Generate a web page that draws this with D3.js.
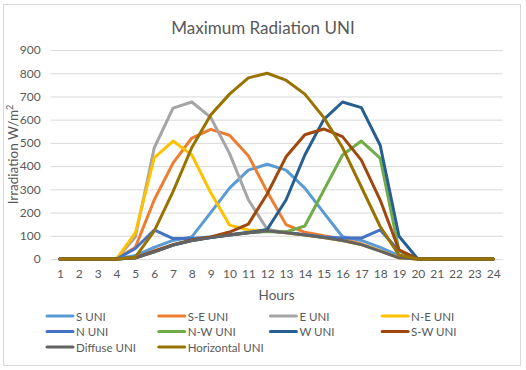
<!DOCTYPE html>
<html>
<head>
<meta charset="utf-8">
<script src="https://cdn.jsdelivr.net/npm/d3@7"></script>
<style>
  body { margin: 0; background: #fff; }
  text { font-family: Lato, "Open Sans", sans-serif; fill: #595959; }
</style>
</head>
<body>
<div id="chart"></div>
<script>
// frame + plot area
const FRAME_WIDTH = 526;
const FRAME_HEIGHT = 370;
const MARGINS = {left: 50.6, right: 23.4, top: 50, bottom: 111};
const VIS_WIDTH = FRAME_WIDTH - MARGINS.left - MARGINS.right;
const VIS_HEIGHT = FRAME_HEIGHT - MARGINS.top - MARGINS.bottom;

// data
const hours = d3.range(1, 25);
const yTicks = [0, 100, 200, 300, 400, 500, 600, 700, 800, 900];

const sUni = [0,0,0,0,15,50,80,95,200,305,383,408,383,305,200,96,80,50,15,0,0,0,0,0];
const seUni = [0,0,0,0,50,254,413,521,558,533,445,290,148,115,100,85,65,35,5,0,0,0,0,0];
const eUni = [0,0,0,0,95,478,650,676,610,455,255,128,113,103,92,80,62,35,5,0,0,0,0,0];
const neUni = [0,0,0,0,112,435,508,448,286,146,125,122,113,103,92,80,62,35,5,0,0,0,0,0];
const nUni = [0,0,0,0,45,125,88,88,95,105,115,120,115,105,95,90,90,125,35,0,0,0,0,0];
const nwUni = [0,0,0,0,5,32,60,80,92,103,113,118,117,142,295,448,508,434,37,0,0,0,0,0];
const wUni = [0,0,0,0,5,32,60,80,92,103,113,127,254,448,600,676,652,490,98,0,0,0,0,0];
const swUni = [0,0,0,0,5,35,62,82,95,116,150,280,440,535,560,527,426,254,39,0,0,0,0,0];
const diffuseUni = [0,0,0,0,5,30,60,80,92,103,113,122,113,103,92,80,62,34,5,0,0,0,0,0];
const horizontalUni = [0,0,0,0,8,120,290,480,620,710,780,800,770,710,610,480,310,140,17,0,0,0,0,0];

const series = [
  {name: 'S UNI', values: sUni, color: '#5B9BD5'},
  {name: 'S-E UNI', values: seUni, color: '#ED7D31'},
  {name: 'E UNI', values: eUni, color: '#A5A5A5'},
  {name: 'N-E UNI', values: neUni, color: '#FFC000'},
  {name: 'N UNI', values: nUni, color: '#4472C4'},
  {name: 'N-W UNI', values: nwUni, color: '#70AD47'},
  {name: 'W UNI', values: wUni, color: '#255E91'},
  {name: 'S-W UNI', values: swUni, color: '#9E480E'},
  {name: 'Diffuse UNI', values: diffuseUni, color: '#636363'},
  {name: 'Horizontal UNI', values: horizontalUni, color: '#997300'}
];

const FRAME = d3.select('#chart')
  .append('svg')
    .attr('width', FRAME_WIDTH)
    .attr('height', FRAME_HEIGHT);

// outer border
FRAME.append('rect')
  .attr('x', 3.5).attr('y', 4.5)
  .attr('width', 517).attr('height', 361)
  .attr('fill', '#fff')
  .attr('stroke', '#d9d9d9');

// title
FRAME.append('text')
  .attr('x', 263).attr('y', 34)
  .attr('text-anchor', 'middle')
  .attr('font-size', '17px')
  .text('Maximum Radiation UNI');

// scales
const xscale = d3.scalePoint()
  .domain(hours)
  .range([0, VIS_WIDTH])
  .padding(0.5);
const yscale = d3.scaleLinear()
  .domain([0, 900])
  .range([VIS_HEIGHT, 0]);

const plot = FRAME.append('g')
  .attr('transform', 'translate(' + MARGINS.left + ',' + MARGINS.top + ')');

// y axis + gridlines
const yAxis = plot.append('g')
  .call(d3.axisLeft(yscale).tickValues(yTicks).tickSize(-VIS_WIDTH).tickPadding(10));
yAxis.select('.domain').remove();
yAxis.selectAll('line').attr('stroke', '#d9d9d9');
yAxis.selectAll('text').attr('font-size', '12px').attr('fill', '#595959');

// x axis
const xAxis = plot.append('g')
  .attr('transform', 'translate(0,' + VIS_HEIGHT + ')')
  .call(d3.axisBottom(xscale).tickSize(0).tickPadding(10));
xAxis.select('.domain').attr('stroke', '#d9d9d9');
xAxis.selectAll('text').attr('font-size', '12px').attr('fill', '#595959');

// axis titles
FRAME.append('text')
  .attr('transform', 'translate(18,' + (MARGINS.top + VIS_HEIGHT / 2) + ') rotate(-90)')
  .attr('text-anchor', 'middle')
  .attr('font-size', '13.5px')
  .html('Irradiation W/m<tspan baseline-shift="super" font-size="9px">2</tspan>');

FRAME.append('text')
  .attr('x', MARGINS.left + VIS_WIDTH / 2).attr('y', 300)
  .attr('text-anchor', 'middle')
  .attr('font-size', '13.5px')
  .text('Hours');

// lines
const line = d3.line()
  .x((d, i) => xscale(hours[i]))
  .y((d) => yscale(d));

plot.selectAll('.series')
  .data(series)
  .enter()
  .append('path')
    .attr('class', 'series')
    .attr('d', (d) => line(d.values))
    .attr('fill', 'none')
    .attr('stroke', (d) => d.color)
    .attr('stroke-width', 3)
    .attr('stroke-linejoin', 'round')
    .attr('stroke-linecap', 'round');

// legend, 4 columns
const legend = FRAME.selectAll('.legend')
  .data(series)
  .enter()
  .append('g')
    .attr('class', 'legend')
    .attr('transform', (d, i) => 'translate(' + (47 + (i % 4) * 111.7) + ',' + (316 + Math.floor(i / 4) * 15.5) + ')');

legend.append('line')
  .attr('x1', 0).attr('x2', 26)
  .attr('y1', 0).attr('y2', 0)
  .attr('stroke', (d) => d.color)
  .attr('stroke-width', 3)
  .attr('stroke-linecap', 'round');

legend.append('text')
  .attr('x', 29).attr('y', 4.5)
  .attr('font-size', '11.5px')
  .text((d) => d.name);
</script>
</body>
</html>
